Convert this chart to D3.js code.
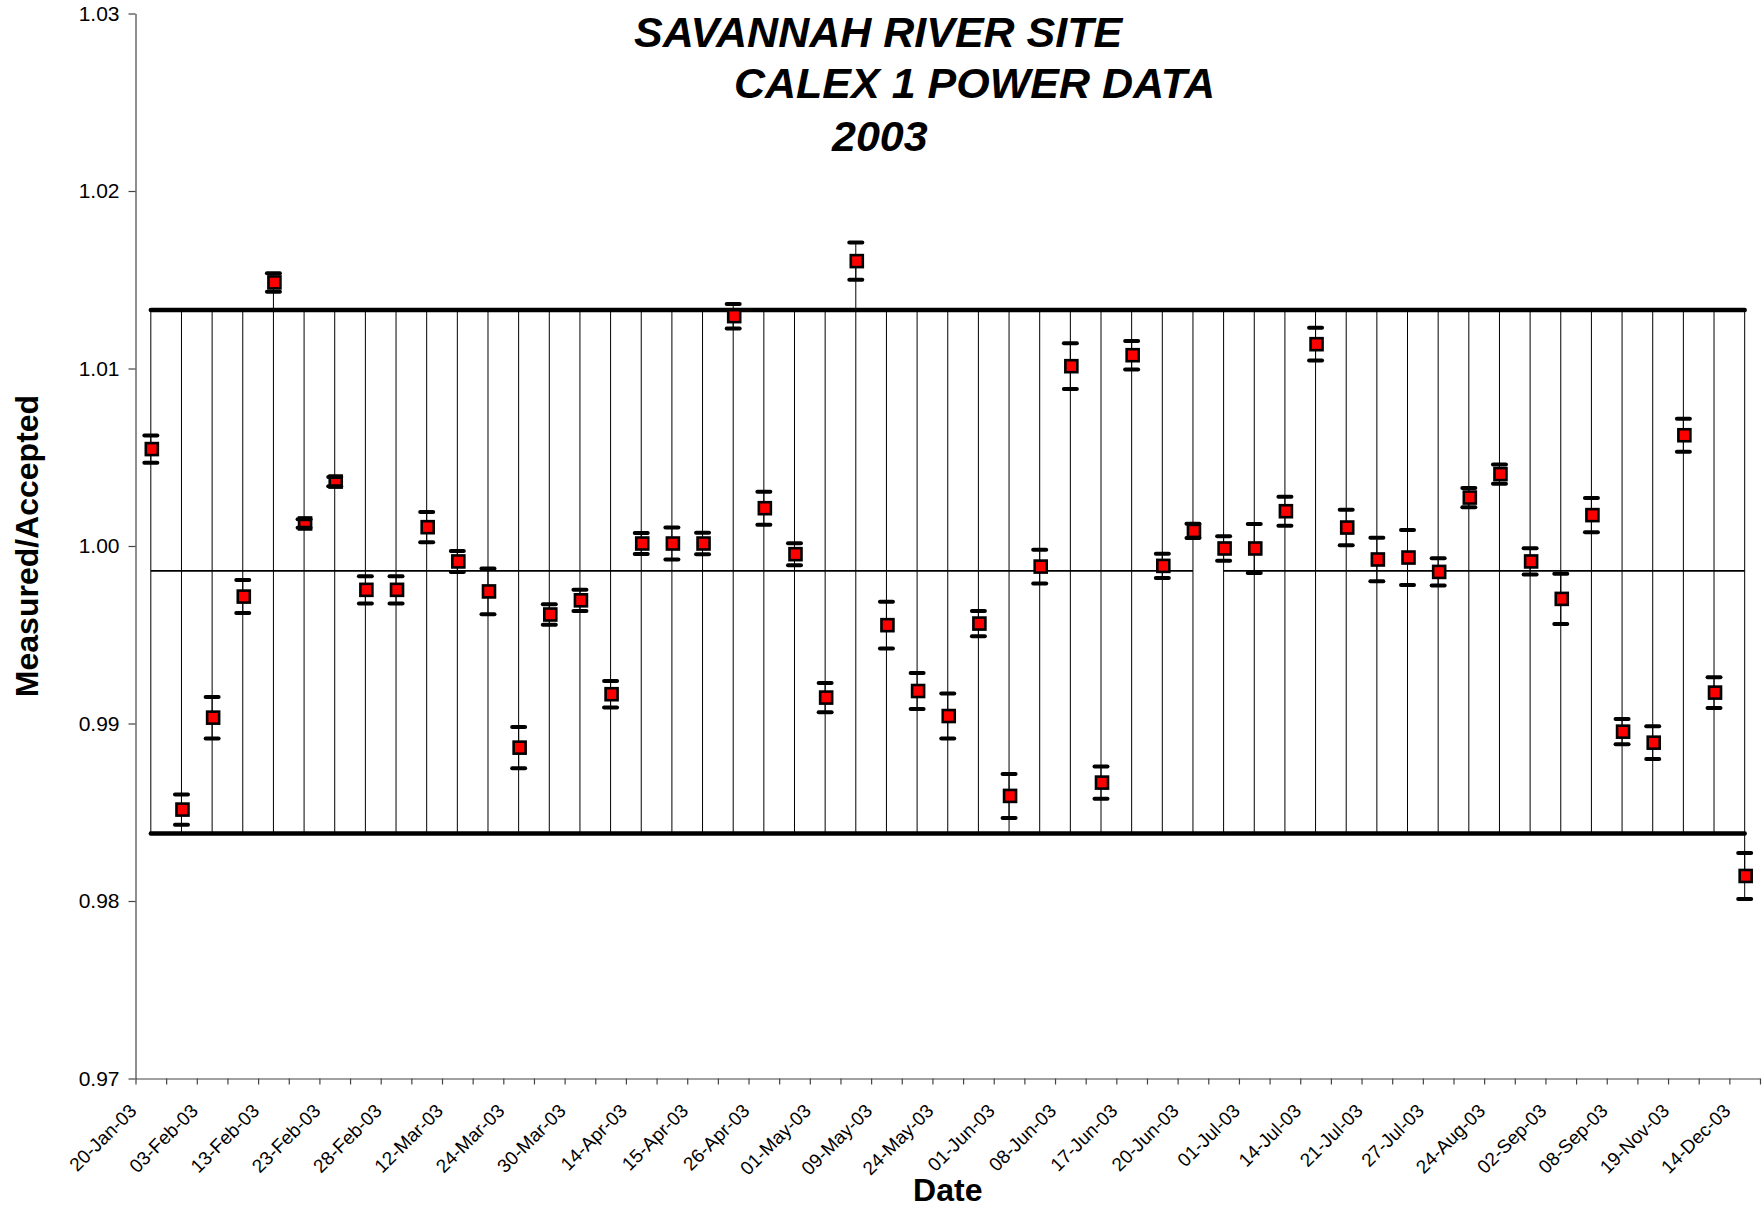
<!DOCTYPE html>
<html>
<head>
<meta charset="utf-8">
<script src="https://cdn.jsdelivr.net/npm/d3@7"></script>
<style>
    body { margin: 0; background: #fff; }
    svg { display: block; }
    text { font-family: "Liberation Sans", Arial, sans-serif; }
</style>
</head>
<body>
<svg id="chart"></svg>
<script>
// tick labels, one for every second measurement
const tickLabels = ['20-Jan-03', '03-Feb-03', '13-Feb-03', '23-Feb-03', '28-Feb-03', '12-Mar-03',
    '24-Mar-03', '30-Mar-03', '14-Apr-03', '15-Apr-03', '26-Apr-03', '01-May-03', '09-May-03',
    '24-May-03', '01-Jun-03', '08-Jun-03', '17-Jun-03', '20-Jun-03', '01-Jul-03', '14-Jul-03',
    '21-Jul-03', '27-Jul-03', '24-Aug-03', '02-Sep-03', '08-Sep-03', '19-Nov-03', '14-Dec-03'];

// measured / accepted ratio
const ratios = [1.00546, 0.98515, 0.99033, 0.99715, 1.01485, 1.00127, 1.00363, 0.99753, 0.99753,
    1.00106, 0.99913, 0.99744, 0.98864, 0.99614, 0.99694, 0.99165, 1.00014, 1.00014, 1.00014,
    1.01295, 1.00213, 0.99954, 0.99146, 1.01605, 0.99554, 0.99183, 0.99042, 0.99563, 0.98592,
    0.99884, 1.01013, 0.98667, 1.01075, 0.99888, 1.00085, 0.99986, 0.99986, 1.00196, 1.01137,
    1.00104, 0.99924, 0.99935, 0.99854, 1.00273, 1.00405, 0.99913, 0.99702, 1.00174, 0.98954,
    0.98892, 1.00624, 0.99174, 0.98141];

// error bar half widths
const errors = [0.00077, 0.00085, 0.00117, 0.00093, 0.00052, 0.00024, 0.00026, 0.00077, 0.00077,
    0.00085, 0.00059, 0.00129, 0.00116, 0.00058, 0.00060, 0.00075, 0.00059, 0.00090, 0.00061,
    0.00069, 0.00093, 0.00062, 0.00082, 0.00105, 0.00132, 0.00102, 0.00127, 0.00071, 0.00124,
    0.00095, 0.00129, 0.00091, 0.00080, 0.00068, 0.00040, 0.00069, 0.00138, 0.00082, 0.00092,
    0.00100, 0.00122, 0.00155, 0.00077, 0.00054, 0.00054, 0.00074, 0.00142, 0.00097, 0.00071,
    0.00092, 0.00093, 0.00086, 0.00130];

const meanValue = 0.9986;
const upperLimit = 1.0133;
const lowerLimit = 0.9838;
// the mean line is drawn in two pieces (index ranges)
const meanSegments = [[0, 34], [35, 52]];

const yTicks = [0.97, 0.98, 0.99, 1.00, 1.01, 1.02, 1.03];

const svgWidth = 1763, svgHeight = 1208;
const plotLeft = 135.5, plotRight = 1760, plotTop = 13.5, plotBottom = 1078.5;

let svg = d3.select('#chart')
    .attr('width', svgWidth)
    .attr('height', svgHeight);

svg.append('rect')
    .attr('width', svgWidth)
    .attr('height', svgHeight)
    .attr('fill', '#fff');

const n = ratios.length;
const xScale = d3.scaleBand()
    .domain(d3.range(n))
    .range([plotLeft, plotRight]);
const xEdges = d3.scaleLinear()
    .domain([0, n])
    .range([plotLeft, plotRight]);
const yScale = d3.scaleLinear()
    .domain([0.97, 1.03])
    .range([plotBottom, plotTop]);

const cx = i => xScale(i) + xScale.bandwidth() / 2;

// axes
let yAxis = svg.append('g')
    .attr('transform', `translate(${plotLeft},0)`)
    .call(d3.axisLeft(yScale)
        .tickValues(yTicks)
        .tickFormat(d3.format('.2f'))
        .tickSize(7)
        .tickSizeOuter(0)
        .tickPadding(9));
yAxis.selectAll('text')
    .attr('font-size', 21)
    .attr('font-family', '"Liberation Sans", Arial, sans-serif')
    .attr('fill', '#000');

let xAxis = svg.append('g')
    .attr('transform', `translate(0,${plotBottom})`)
    .call(d3.axisBottom(xEdges)
        .tickValues(d3.range(n + 1))
        .tickFormat('')
        .tickSize(6)
        .tickSizeOuter(0));

svg.selectAll('.domain, .tick line')
    .attr('stroke', '#444')
    .attr('stroke-width', 1.2);

// rotated category labels
svg.append('g')
    .selectAll('text')
    .data(tickLabels)
    .join('text')
    .attr('transform', (d, k) => `translate(${cx(k * 2) - 13},1112) rotate(-45)`)
    .attr('text-anchor', 'end')
    .attr('font-size', 19)
    .attr('fill', '#000')
    .text(d => d);

// high-low lines
svg.append('g')
    .selectAll('line')
    .data(ratios)
    .join('line')
    .attr('x1', (d, i) => cx(i))
    .attr('x2', (d, i) => cx(i))
    .attr('y1', d => yScale(Math.max(d, upperLimit)))
    .attr('y2', d => yScale(Math.min(d, lowerLimit)))
    .attr('stroke', '#000')
    .attr('stroke-width', 1);

// limit lines
[upperLimit, lowerLimit].forEach(function (v) {
    svg.append('line')
        .attr('x1', cx(0))
        .attr('x2', cx(n - 1))
        .attr('y1', yScale(v))
        .attr('y2', yScale(v))
        .attr('stroke', '#000')
        .attr('stroke-width', 4.5)
        .attr('stroke-linecap', 'round');
});

// mean line
meanSegments.forEach(function (seg) {
    svg.append('line')
        .attr('x1', cx(seg[0]))
        .attr('x2', cx(seg[1]))
        .attr('y1', yScale(meanValue))
        .attr('y2', yScale(meanValue))
        .attr('stroke', '#000')
        .attr('stroke-width', 1.6);
});

// error bar stems
svg.append('g')
    .selectAll('line')
    .data(ratios)
    .join('line')
    .attr('x1', (d, i) => cx(i))
    .attr('x2', (d, i) => cx(i))
    .attr('y1', (d, i) => yScale(d + errors[i]))
    .attr('y2', (d, i) => yScale(d - errors[i]))
    .attr('stroke', '#000')
    .attr('stroke-width', 1);

// markers
svg.append('g')
    .selectAll('rect')
    .data(ratios)
    .join('rect')
    .attr('x', (d, i) => cx(i) + 1 - 6)
    .attr('y', d => yScale(d) - 6)
    .attr('width', 12)
    .attr('height', 12)
    .attr('fill', '#ff0000')
    .attr('stroke', '#000')
    .attr('stroke-width', 2.6);

// error bar caps
let caps = svg.append('g');
ratios.forEach(function (d, i) {
    [d + errors[i], d - errors[i]].forEach(function (v) {
        caps.append('line')
            .attr('x1', cx(i) - 6.5)
            .attr('x2', cx(i) + 6.5)
            .attr('y1', yScale(v))
            .attr('y2', yScale(v))
            .attr('stroke', '#000')
            .attr('stroke-width', 4)
            .attr('stroke-linecap', 'round');
    });
});

// titles
const titleLines = [
    { text: 'SAVANNAH RIVER SITE', x: 634, y: 46.7 },
    { text: 'CALEX 1 POWER DATA', x: 734, y: 98.3 },
    { text: '2003', x: 832, y: 150.7 }
];
svg.append('g')
    .selectAll('text')
    .data(titleLines)
    .join('text')
    .attr('x', d => d.x)
    .attr('y', d => d.y)
    .attr('font-size', 43)
    .attr('font-weight', 'bold')
    .attr('font-style', 'italic')
    .attr('fill', '#000')
    .text(d => d.text);

svg.append('text')
    .attr('x', (plotLeft + plotRight) / 2)
    .attr('y', 1201)
    .attr('text-anchor', 'middle')
    .attr('font-size', 32)
    .attr('font-weight', 'bold')
    .text('Date');

svg.append('text')
    .attr('transform', `translate(38,${(plotTop + plotBottom) / 2}) rotate(-90)`)
    .attr('text-anchor', 'middle')
    .attr('font-size', 32)
    .attr('font-weight', 'bold')
    .text('Measured/Accepted');
</script>
</body>
</html>
